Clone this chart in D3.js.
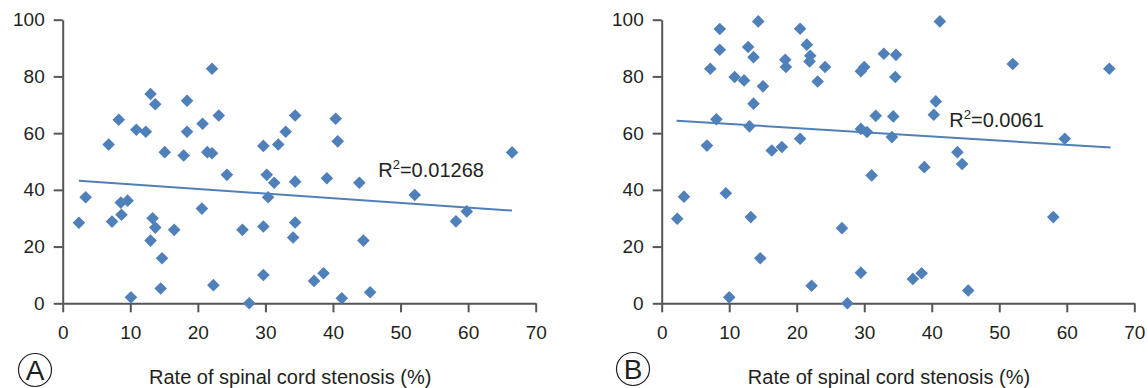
<!DOCTYPE html>
<html>
<head>
<meta charset="utf-8">
<script src="https://cdn.jsdelivr.net/npm/d3@7"></script>
<style>
  body { margin: 0; background: #fff; }
  svg { display: block; font-family: "Liberation Sans", Arial, sans-serif; }
</style>
</head>
<body>
<div id="chart"></div>
<script>
// tick values
const xTicks = [0, 10, 20, 30, 40, 50, 60, 70];
const yTicks = [0, 20, 40, 60, 80, 100];

// panel A: rate of stenosis vs score
const xA = [2.4, 3.4, 6.8, 7.3, 8.7, 8.6, 9.6, 8.3, 10.1, 10.9, 12.3, 13.0, 13.7, 13.3, 13.7, 13.0, 14.7, 14.5, 15.1, 16.5,
  17.9, 18.4, 18.4, 20.7, 20.6, 21.4, 22.1, 22.1, 23.1, 22.3, 24.3, 26.6, 27.6, 29.7, 29.7, 29.7, 30.2, 31.3, 30.4, 31.9,
  33.0, 34.4, 34.4, 34.4, 34.1, 40.4, 40.7, 39.1, 43.9, 44.5, 37.2, 38.6, 41.3, 45.5, 52.1, 58.2, 59.8, 66.5];
const yA = [28.4, 37.4, 56.0, 28.8, 31.2, 35.5, 36.2, 64.7, 2.1, 61.2, 60.5, 73.8, 70.2, 30.0, 26.7, 22.1, 15.9, 5.2, 53.3, 25.9,
  52.1, 71.4, 60.5, 63.3, 33.4, 53.3, 52.9, 82.7, 66.2, 6.4, 45.3, 25.9, 0, 55.5, 27.1, 10.0, 45.3, 42.5, 37.4, 56.0,
  60.5, 66.2, 42.9, 28.5, 23.2, 65.1, 57.1, 44.1, 42.5, 22.1, 7.9, 10.6, 1.8, 3.9, 38.2, 28.9, 32.4, 53.2];
const trendA = [[2.4, 43.2], [66.5, 32.7]];

// panel B
const xB = [2.3, 3.3, 6.7, 7.2, 8.1, 8.6, 8.6, 9.5, 10.0, 10.8, 12.2, 12.8, 13.6, 13.6, 13.0, 13.2, 14.3, 15.0, 14.6, 16.3,
  17.8, 18.3, 18.4, 20.5, 20.5, 21.5, 22.0, 21.9, 23.1, 24.2, 22.2, 26.7, 27.5, 29.5, 29.5, 30.0, 29.5, 30.4, 31.7, 31.1,
  32.9, 34.7, 34.6, 34.3, 34.1, 41.2, 40.6, 40.3, 38.9, 43.8, 44.5, 37.2, 38.5, 45.4, 52.0, 58.0, 59.7, 66.3];
const yB = [29.8, 37.6, 55.6, 82.7, 64.9, 96.7, 89.4, 38.8, 2.1, 79.8, 78.6, 90.4, 86.8, 70.4, 62.4, 30.4, 99.4, 76.5, 15.9, 53.9,
  55.1, 85.9, 83.3, 96.8, 58.0, 91.2, 87.3, 85.3, 78.2, 83.3, 6.2, 26.5, 0, 10.8, 81.8, 83.3, 61.5, 60.4, 66.1, 45.1,
  88.0, 87.6, 79.8, 65.9, 58.6, 99.4, 71.2, 66.5, 48.0, 53.3, 49.1, 8.6, 10.6, 4.5, 84.4, 30.4, 58.0, 82.7];
const trendB = [[2.2, 64.4], [66.5, 54.9]];

const panels = [
  { letter: "A", xs: xA, ys: yA, trend: trendA, r2: "0.01268", r2At: [46.7, 44.5],
    left: 62.7, right: 535.7, badge: [35, 370] },
  { letter: "B", xs: xB, ys: yB, trend: trendB, r2: "0.0061", r2At: [42.6, 62.0],
    left: 661.7, right: 1134.3, badge: [633, 369] }
];

const W = 1148, H = 388;
const plotTop = 19.7, plotBottom = 303.3;
const blue = "#5080ba";
const axisColor = "#555";

const svg = d3.select("#chart").append("svg")
  .attr("width", W)
  .attr("height", H);

panels.forEach(p => {
  const x = d3.scaleLinear().domain([0, 70]).range([p.left, p.right]);
  const y = d3.scaleLinear().domain([0, 100]).range([plotBottom, plotTop]);
  const g = svg.append("g");

  // axes
  const xAxis = g.append("g")
    .attr("transform", `translate(0,${plotBottom})`)
    .call(d3.axisBottom(x).tickValues(xTicks).tickSize(9).tickSizeOuter(0).tickPadding(13));
  const yAxis = g.append("g")
    .attr("transform", `translate(${p.left},0)`)
    .call(d3.axisLeft(y).tickValues(yTicks).tickSize(9).tickSizeOuter(0).tickPadding(9));

  [xAxis, yAxis].forEach(a => {
    a.select(".domain").attr("stroke", axisColor).attr("stroke-width", 2);
    a.selectAll(".tick line").attr("stroke", axisColor).attr("stroke-width", 2);
    a.selectAll(".tick text")
      .attr("fill", "#231f20")
      .style("font-size", "19px");
  });

  // diamonds
  const pts = p.xs.map((v, i) => ({ x: v, y: p.ys[i] }));
  g.append("g").selectAll("path")
    .data(pts)
    .join("path")
    .attr("d", "M0,-6.3L6.3,0L0,6.3L-6.3,0Z")
    .attr("transform", d => `translate(${x(d.x)},${y(d.y)})`)
    .attr("fill", blue);

  // trend line
  g.append("path")
    .datum(p.trend)
    .attr("d", d3.line().x(d => x(d[0])).y(d => y(d[1])))
    .attr("fill", "none")
    .attr("stroke", blue)
    .attr("stroke-width", 2);

  // R² label
  const lbl = g.append("text")
    .attr("x", x(p.r2At[0]))
    .attr("y", y(p.r2At[1]))
    .attr("fill", "#231f20")
    .style("font-size", "20px");
  lbl.append("tspan").text("R");
  lbl.append("tspan").attr("dy", -8).style("font-size", "13px").text("2");
  lbl.append("tspan").attr("dy", 8).text("=" + p.r2);

  // x axis title, sits a little left of the axis centre
  g.append("text")
    .attr("x", (p.left + p.right) / 2 - 9)
    .attr("y", 384)
    .attr("text-anchor", "middle")
    .attr("fill", "#231f20")
    .style("font-size", "20px")
    .text("Rate of spinal cord stenosis (%)");

  // panel badge
  g.append("circle")
    .attr("cx", p.badge[0])
    .attr("cy", p.badge[1])
    .attr("r", 16.5)
    .attr("fill", "none")
    .attr("stroke", "#231f20")
    .attr("stroke-width", 1.2);
  g.append("text")
    .attr("x", p.badge[0])
    .attr("y", p.badge[1] + 10)
    .attr("text-anchor", "middle")
    .attr("fill", "#231f20")
    .style("font-size", "28px")
    .text(p.letter);
});
</script>
</body>
</html>
